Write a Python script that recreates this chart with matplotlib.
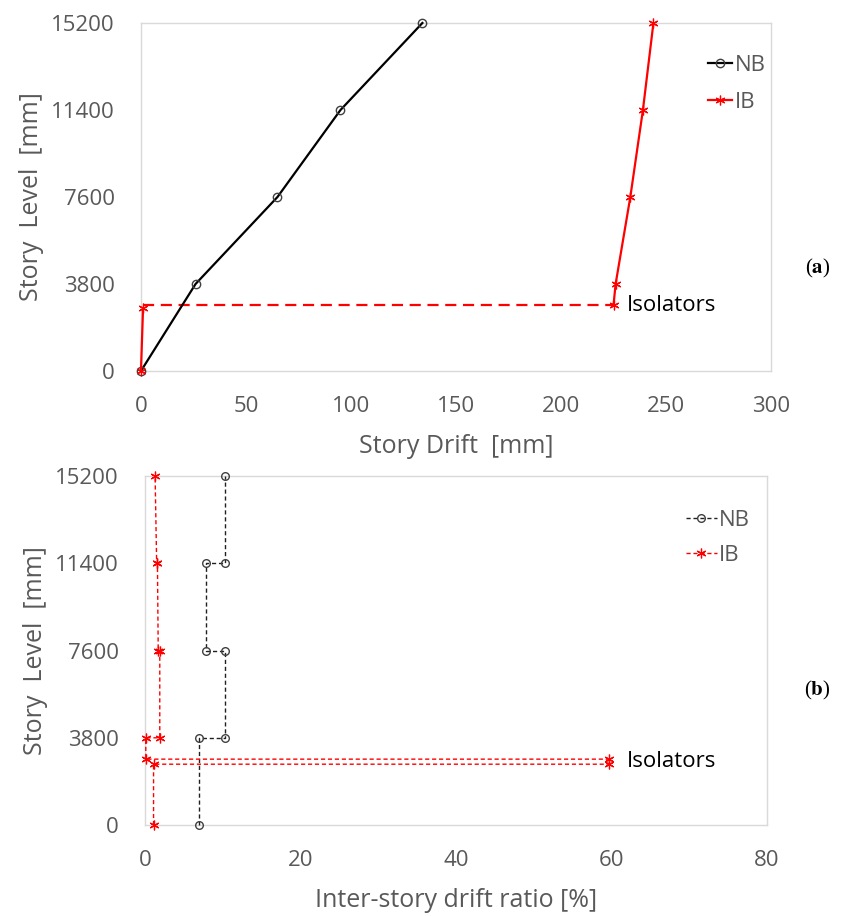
import matplotlib
matplotlib.use("Agg")
import matplotlib.pyplot as plt
from matplotlib.lines import Line2D

plt.rcParams['font.family'] = ['Open Sans', 'DejaVu Sans']
plt.rcParams['mathtext.fontset'] = 'stix'

# ---- (a) story drift ----
levels = [0, 3800, 7600, 11400, 15200]
nb_drift = [0, 26, 65, 95, 134]

ib_base_drift = [0, 1]
ib_base_level = [0, 2750]
iso_level = 2880
ib_iso_drift = [1, 225]
ib_upper_drift = [225, 226, 233, 239, 244]
ib_upper_level = [2880, 3800, 7600, 11400, 15200]

# ---- (b) inter-story drift ratio ----
nb_ratio = [6.9, 6.9, 10.3, 10.3, 7.9, 7.9, 10.3, 10.3]
nb_ratio_level = [0, 3800, 3800, 7600, 7600, 11400, 11400, 15200]
ib_ratio = [1.1, 1.1, 59.7, 59.7, 0.1, 0.1, 1.9, 1.9, 1.7, 1.6, 1.5, 1.3]
ib_ratio_level = [0, 2650, 2650, 2870, 2870, 3800, 3800, 7600, 7600, 11400, 11400, 15200]

y_ticks = [0, 3800, 7600, 11400, 15200]
x_ticks_a = [0, 50, 100, 150, 200, 250, 300]
x_ticks_b = [0, 20, 40, 60, 80]

GRAY = '#595959'
SPINE = '#d9d9d9'
RED = '#ff0000'
STAR = (6, 2, 0)

fig = plt.figure(figsize=(8.59, 9.16), dpi=100)
ax1 = fig.add_axes([0.1641, 0.5950, 0.7335, 0.3799])
ax2 = fig.add_axes([0.1688, 0.0993, 0.7241, 0.3810])


def style(ax, xticks, xlim):
    ax.set_xlim(*xlim)
    ax.set_ylim(0, 15200)
    ax.set_xticks(xticks)
    ax.set_yticks(y_ticks)
    for s in ax.spines.values():
        s.set_color(SPINE)
        s.set_linewidth(1.0)
    ax.tick_params(length=0, labelsize=16, colors=GRAY)
    ax.tick_params(axis='x', pad=18)
    ax.tick_params(axis='y', pad=19)
    for lab in ax.get_xticklabels() + ax.get_yticklabels():
        lab.set_color(GRAY)


# (a)
style(ax1, x_ticks_a, (0, 300))
ax1.plot(nb_drift, levels, color='black', lw=1.6, marker='o', ms=6,
         mfc='none', mec='#404040', mew=1.0, clip_on=False, zorder=3)
ax1.plot(ib_base_drift, ib_base_level, color=RED, lw=1.6, marker=STAR, ms=7,
         mec=RED, mew=0.9, clip_on=False, zorder=3)
ax1.plot(ib_iso_drift, [iso_level, iso_level], color=RED, lw=1.6,
         dashes=(5, 3), zorder=2)
ax1.plot(ib_upper_drift, ib_upper_level, color=RED, lw=1.6, marker=STAR, ms=7,
         mec=RED, mew=0.9, clip_on=False, zorder=3)
ax1.text(231.5, iso_level, 'Isolators', fontsize=16, color='black',
         ha='left', va='center')
ax1.set_xlabel('Story Drift  [mm]', fontsize=18, color=GRAY, labelpad=12)
ax1.set_ylabel('Story  Level  [mm]', fontsize=18, color=GRAY, labelpad=5)
h1 = [Line2D([], [], color='black', lw=1.6, marker='o', ms=6, mfc='none',
             mec='#404040', mew=1.0),
      Line2D([], [], color=RED, lw=1.6, marker=STAR, ms=7, mec=RED, mew=0.9)]
ax1.legend(h1, ['NB', 'IB'], loc='upper left', bbox_to_anchor=(0.868, 0.965),
           frameon=False, fontsize=16, labelcolor=GRAY, handlelength=1.1,
           handletextpad=0.1, labelspacing=0.72)

# (b)
style(ax2, x_ticks_b, (0, 80))
ax2.plot(nb_ratio, nb_ratio_level, color='#202020', lw=1.0, dashes=(3, 2),
         marker='o', ms=5.5, mfc='none', mec='#404040', mew=1.0,
         clip_on=False, zorder=3)
ax2.plot(ib_ratio, ib_ratio_level, color=RED, lw=1.0, dashes=(3, 2),
         marker=STAR, ms=7, mec=RED, mew=0.9, clip_on=False, zorder=3)
ax2.text(62.0, 2760, 'Isolators', fontsize=16, color='black',
         ha='left', va='center')
ax2.set_xlabel('Inter-story drift ratio [%]', fontsize=18, color=GRAY,
               labelpad=12)
ax2.set_ylabel('Story  Level  [mm]', fontsize=18, color=GRAY, labelpad=5)
h2 = [Line2D([], [], color='#202020', lw=1.0, dashes=(3, 2), marker='o',
             ms=5.5, mfc='none', mec='#404040', mew=1.0),
      Line2D([], [], color=RED, lw=1.0, dashes=(3, 2), marker=STAR, ms=7,
             mec=RED, mew=0.9)]
ax2.legend(h2, ['NB', 'IB'], loc='upper left', bbox_to_anchor=(0.837, 0.96),
           frameon=False, fontsize=16, labelcolor=GRAY, handlelength=1.4,
           handletextpad=0.1, labelspacing=0.62)

fig.text(0.952, 1 - 268 / 916, r'($\mathbf{a}$)', fontsize=15,
         family='Liberation Serif', ha='center', va='center')
fig.text(0.952, 1 - 690 / 916, r'($\mathbf{b}$)', fontsize=15,
         family='Liberation Serif', ha='center', va='center')

fig.savefig('out.png', dpi=100)
